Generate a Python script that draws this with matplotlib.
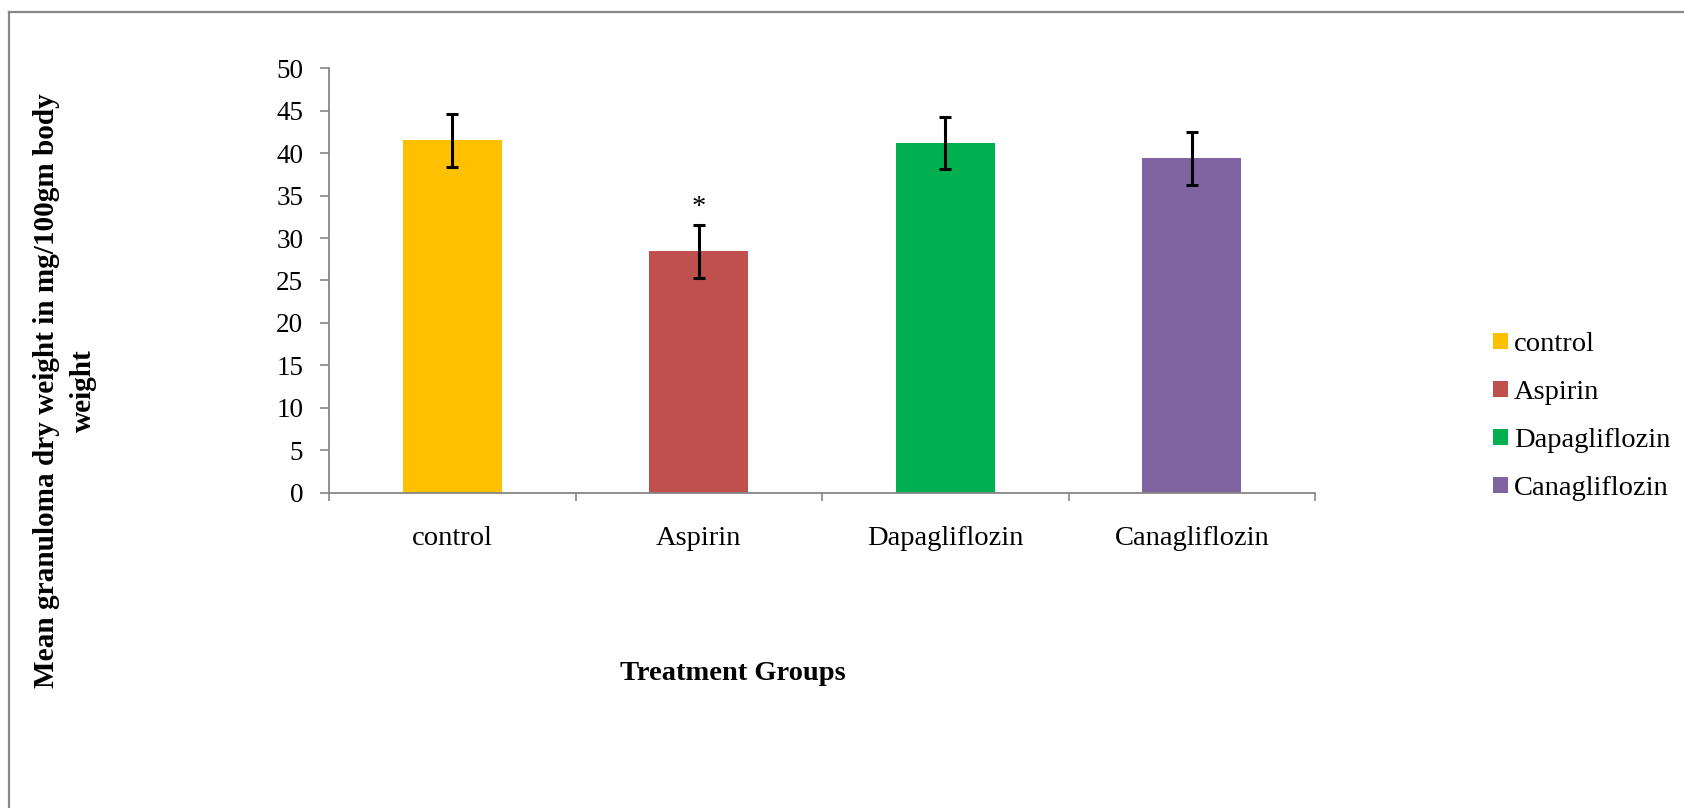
import matplotlib
matplotlib.use("Agg")
import matplotlib.pyplot as plt
from matplotlib.patches import Patch
from matplotlib.lines import Line2D
import numpy as np

categories = ["control", "Aspirin", "Dapagliflozin", "Canagliflozin"]
means = [41.5, 28.45, 41.2, 39.4]
sems = [3.1, 3.1, 3.1, 3.1]
colors = ["#FFC000", "#C0504D", "#00B050", "#8064A2"]
significance = ["", "*", "", ""]
yticks = [0, 5, 10, 15, 20, 25, 30, 35, 40, 45, 50]
ylabel = "Mean granuloma dry weight in mg/100gm body\nweight"
xlabel = "Treatment Groups"

plt.rcParams['font.family'] = ['Liberation Serif', 'DejaVu Serif']
FS = 20.5
W, H = 1684, 808
fig = plt.figure(figsize=(W / 100, H / 100), dpi=100)
ax = fig.add_axes([329 / W, 1 - 492.7 / H, (1315 - 329) / W, (492.7 - 68.3) / H])

x = np.arange(len(categories))
ax.bar(x, means, width=0.4, color=colors, zorder=2)
ax.errorbar(x, means, yerr=sems, fmt='none', ecolor='black', elinewidth=2.2,
            capsize=4.3, capthick=2.2, zorder=3)
for xi, m, s, sig in zip(x, means, sems, significance):
    if sig:
        ax.annotate(sig, xy=(xi, m + s), xytext=(0, 7.7), textcoords='offset points',
                    ha='center', va='baseline', fontsize=FS)

ax.set_xlim(-0.5, len(categories) - 0.5)
ax.set_ylim(0, 50)
ax.set_yticks(yticks)
ax.set_yticklabels([str(t) for t in yticks], fontsize=19.5)
ax.tick_params(axis='y', direction='out', length=6.5, width=1.2, color='#868686', pad=12)

ax.set_xticks(x)
ax.set_xticklabels(categories, fontsize=FS)
ax.set_xticks(np.arange(len(categories) + 1) - 0.5, minor=True)
ax.tick_params(axis='x', which='major', length=0, pad=24)
ax.tick_params(axis='x', which='minor', direction='out', length=6, width=1.2, color='#868686')

for sp in ['top', 'right']:
    ax.spines[sp].set_visible(False)
for sp in ['left', 'bottom']:
    ax.spines[sp].set_color('#868686')
    ax.spines[sp].set_linewidth(1.3)

fig.text(732.5 / W, 1 - 673 / H, xlabel, fontsize=FS, fontweight='bold',
         ha='center', va='center')
fig.text(65 / W, 1 - 391 / H, ylabel, fontsize=21.1, fontweight='bold', rotation=90,
         ha='center', va='center', multialignment='center', linespacing=1.5)

handles = [Patch(facecolor=c, edgecolor='none') for c in colors]
fig.legend(handles, categories, loc='center left', bbox_to_anchor=(1493 / W, 1 - 416.5 / H),
           frameon=False, fontsize=FS, handlelength=0.52, handleheight=0.52,
           handletextpad=0.22, labelspacing=0.81, borderpad=0, borderaxespad=0)

# outer frame
fx = 8.5 / W
fy = 1 - 12 / H
fig.add_artist(Line2D([fx, fx], [0, fy], transform=fig.transFigure, color='#888888', lw=1.6))
fig.add_artist(Line2D([fx, 1], [fy, fy], transform=fig.transFigure, color='#888888', lw=1.6))

fig.savefig("out.png", dpi=100)
